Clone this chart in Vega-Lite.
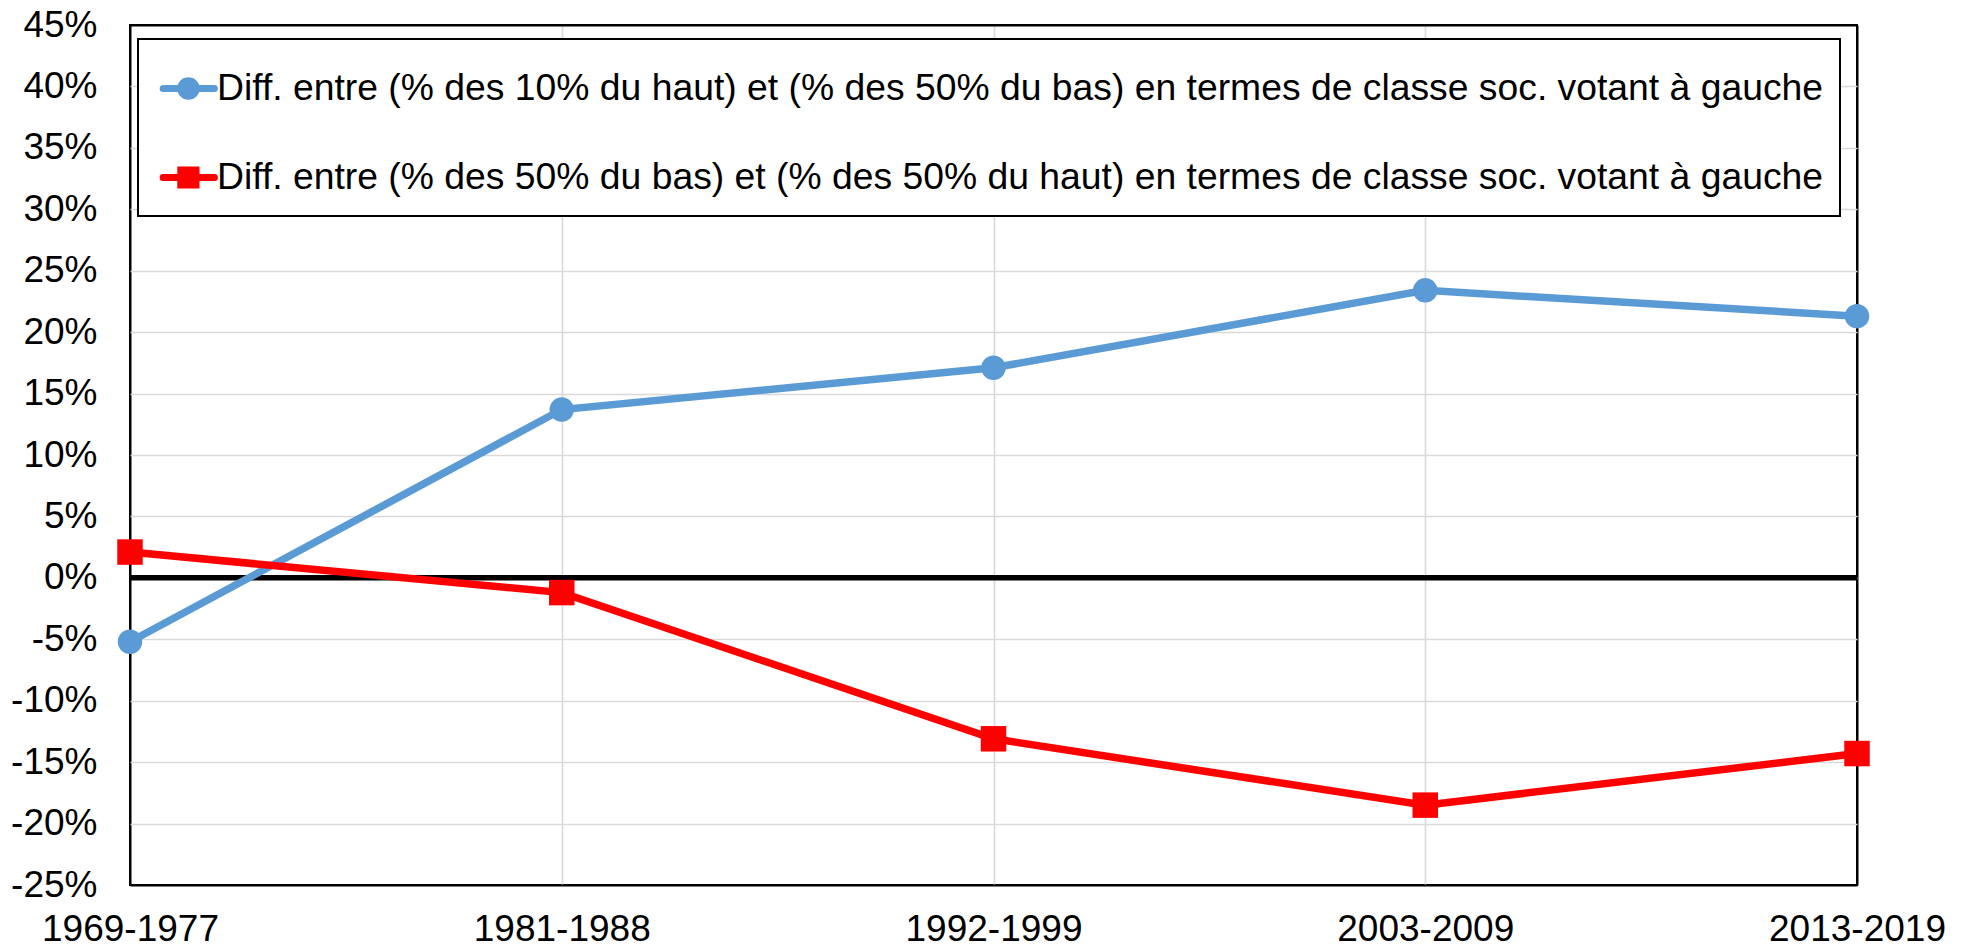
{
  "$schema": "https://vega.github.io/schema/vega-lite/v6.json",
  "width": 1727,
  "height": 860,
  "autosize": "none",
  "padding": {"left": 130, "top": 25, "right": 111, "bottom": 62},
  "background": "white",
  "config": {
    "font": "Liberation Sans",
    "view": {"stroke": "black", "strokeWidth": 2},
    "axisY": {"grid": true, "ticks": false, "domain": false, "labelFontSize": 37, "labelPadding": 33, "labelColor": "black", "labelFont": "Liberation Sans",
              "gridColor": {"condition": {"test": "abs(datum.value + 0.25) < 1e-6 || abs(datum.value - 0.45) < 1e-6", "value": "black"}, "value": "#D9D9D9"},
              "gridWidth": {"condition": {"test": "abs(datum.value + 0.25) < 1e-6 || abs(datum.value - 0.45) < 1e-6", "value": 2}, "value": 1.6}},
    "axisX": {"grid": true, "ticks": false, "domain": false, "labelFontSize": 37, "labelPadding": 55, "labelBaseline": "alphabetic", "labelAngle": 0, "labelColor": "black", "labelFont": "Liberation Sans", "labelFlush": false, "labelBound": false, "labelOverlap": false,
              "gridColor": {"condition": {"test": "datum.value === '1969-1977' || datum.value === '2013-2019'", "value": "black"}, "value": "#D9D9D9"},
              "gridWidth": {"condition": {"test": "datum.value === '1969-1977' || datum.value === '2013-2019'", "value": 2}, "value": 1.6}}
  },
  "data": {
    "values": [
      {"periode": "1969-1977", "serie": "Diff. entre (% des 10% du haut) et (% des 50% du bas) en termes de classe soc. votant à gauche", "valeur": -0.052},
      {"periode": "1981-1988", "serie": "Diff. entre (% des 10% du haut) et (% des 50% du bas) en termes de classe soc. votant à gauche", "valeur": 0.137},
      {"periode": "1992-1999", "serie": "Diff. entre (% des 10% du haut) et (% des 50% du bas) en termes de classe soc. votant à gauche", "valeur": 0.171},
      {"periode": "2003-2009", "serie": "Diff. entre (% des 10% du haut) et (% des 50% du bas) en termes de classe soc. votant à gauche", "valeur": 0.234},
      {"periode": "2013-2019", "serie": "Diff. entre (% des 10% du haut) et (% des 50% du bas) en termes de classe soc. votant à gauche", "valeur": 0.213},
      {"periode": "1969-1977", "serie": "Diff. entre (% des 50% du bas) et (% des 50% du haut) en termes de classe soc. votant à gauche", "valeur": 0.021},
      {"periode": "1981-1988", "serie": "Diff. entre (% des 50% du bas) et (% des 50% du haut) en termes de classe soc. votant à gauche", "valeur": -0.012},
      {"periode": "1992-1999", "serie": "Diff. entre (% des 50% du bas) et (% des 50% du haut) en termes de classe soc. votant à gauche", "valeur": -0.131},
      {"periode": "2003-2009", "serie": "Diff. entre (% des 50% du bas) et (% des 50% du haut) en termes de classe soc. votant à gauche", "valeur": -0.185},
      {"periode": "2013-2019", "serie": "Diff. entre (% des 50% du bas) et (% des 50% du haut) en termes de classe soc. votant à gauche", "valeur": -0.143}
    ]
  },
  "layer": [
    {
      "data": {"values": [{"zero": 0}]},
      "mark": {"type": "rule", "color": "black", "strokeWidth": 5.5},
      "encoding": {
        "y": {"field": "zero", "type": "quantitative", "title": null}
      }
    },
    {
      "mark": {"type": "line", "strokeWidth": 7.5},
      "encoding": {
        "x": {"field": "periode", "type": "ordinal", "sort": null, "scale": {"type": "point", "padding": 0}, "title": null},
        "y": {"field": "valeur", "type": "quantitative", "title": null,
              "scale": {"domain": [-0.25, 0.45], "nice": false, "zero": false},
              "axis": {"values": [-0.25, -0.2, -0.15, -0.1, -0.05, 0, 0.05, 0.1, 0.15, 0.2, 0.25, 0.3, 0.35, 0.4, 0.45],
                       "labelExpr": "replace(format(datum.value, '.0%'), '\u2212', '-')"}},
        "color": {"field": "serie", "type": "nominal",
                  "scale": {"domain": ["Diff. entre (% des 10% du haut) et (% des 50% du bas) en termes de classe soc. votant à gauche", "Diff. entre (% des 50% du bas) et (% des 50% du haut) en termes de classe soc. votant à gauche"], "range": ["#5B9BD5", "#FF0000"]},
                  "legend": {
                    "orient": "none", "legendX": 8, "legendY": 14, "title": null, "direction": "vertical",
                    "labelFontSize": 37.3, "labelFont": "Liberation Sans", "labelColor": "black", "labelLimit": 0,
                    "symbolSize": 3528, "symbolStrokeWidth": 7, "padding": 16, "rowPadding": 33, "labelOffset": -4,
                    "strokeColor": "black", "fillColor": "white",
                    "encode": {
                      "legend": {"update": {"strokeWidth": {"value": 2}}},
                      "symbols": {"update": {
                        "shape": {"signal": "datum.index === 0 ? 'M-0.82,0H0.906M0.29,0A0.259,0.259,0,1,1,-0.228,0A0.259,0.259,0,1,1,0.29,0Z' : 'M-0.82,0H0.906M-0.226,-0.256H0.286V0.256H-0.226Z'"},
                        "fill": {"signal": "datum.index === 0 ? '#5B9BD5' : '#FF0000'"},
                        "stroke": {"signal": "datum.index === 0 ? '#5B9BD5' : '#FF0000'"},
                        "strokeWidth": {"value": 7},
                        "strokeCap": {"value": "round"},
                        "opacity": {"value": 1},
                        "fillOpacity": {"value": 1}
                      }}
                    }
                  }}
      }
    },
    {
      "transform": [{"filter": {"field": "serie", "equal": "Diff. entre (% des 10% du haut) et (% des 50% du bas) en termes de classe soc. votant à gauche"}}],
      "mark": {"type": "point", "filled": true, "opacity": 1, "shape": "circle", "size": 600, "color": "#5B9BD5"},
      "encoding": {
        "x": {"field": "periode", "type": "ordinal", "sort": null, "title": null},
        "y": {"field": "valeur", "type": "quantitative", "title": null}
      }
    },
    {
      "transform": [{"filter": {"field": "serie", "equal": "Diff. entre (% des 50% du bas) et (% des 50% du haut) en termes de classe soc. votant à gauche"}}],
      "mark": {"type": "point", "filled": true, "opacity": 1, "shape": "square", "size": 650, "color": "#FF0000"},
      "encoding": {
        "x": {"field": "periode", "type": "ordinal", "sort": null, "title": null},
        "y": {"field": "valeur", "type": "quantitative", "title": null}
      }
    }
  ]
}
